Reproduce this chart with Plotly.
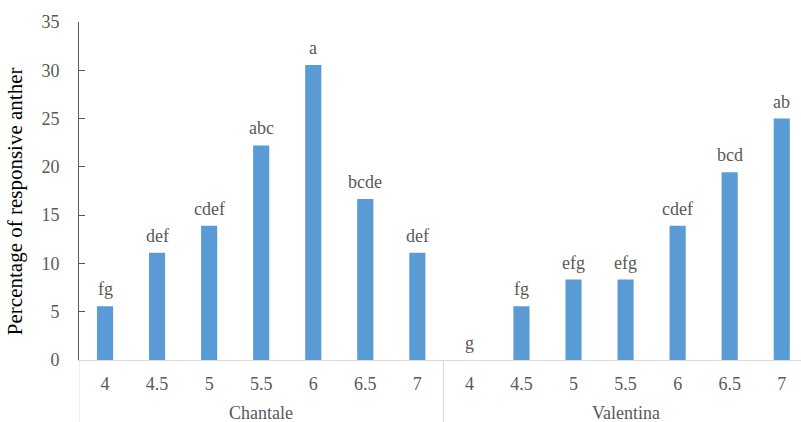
import plotly.graph_objects as go

# Anther response by pH for two cultivars
cultivars = ["Chantale", "Valentina"]
ph_levels = ["4", "4.5", "5", "5.5", "6", "6.5", "7"]
chantale_pct = [5.56, 11.11, 13.89, 22.22, 30.56, 16.67, 11.11]
valentina_pct = [0.0, 5.56, 8.33, 8.33, 13.89, 19.44, 25.0]
chantale_letters = ["fg", "def", "cdef", "abc", "a", "bcde", "def"]
valentina_letters = ["g", "fg", "efg", "efg", "cdef", "bcd", "ab"]
y_ticks = [0, 5, 10, 15, 20, 25, 30, 35]

values = chantale_pct + valentina_pct
letters = chantale_letters + valentina_letters
tick_text = ph_levels + ph_levels
xs = list(range(len(values)))

SERIF = "Liberation Serif"
GREY = "#595959"
LIGHT = "#D9D9D9"
BAR = "#5B9BD5"

fig = go.Figure(
    go.Bar(
        x=xs,
        y=values,
        width=0.31,
        marker=dict(color=BAR, line=dict(width=0)),
        hoverinfo="skip",
    )
)

# significance letters above each bar
for x, v, t in zip(xs, values, letters):
    fig.add_annotation(
        x=x, y=v, text=t, showarrow=False, xref="x", yref="y",
        yanchor="bottom", yshift=5,
        font=dict(family=SERIF, size=18, color=GREY),
    )

n = len(ph_levels)
plot_h = 422 - 22 - 62

# cultivar labels and group dividers below the axis
for i, name in enumerate(cultivars):
    center = i * n + (n - 1) / 2
    fig.add_annotation(
        x=center, y=-53 / plot_h, xref="x", yref="paper", text=name,
        showarrow=False, yanchor="middle",
        font=dict(family=SERIF, size=18, color=GREY),
    )
for k in range(len(cultivars) + 1):
    fig.add_shape(
        type="line", xref="x", yref="paper",
        x0=k * n - 0.5, x1=k * n - 0.5, y0=0, y1=-62 / plot_h,
        line=dict(color=LIGHT, width=1),
    )

# y-axis title
fig.add_annotation(
    x=0, y=0.47, xref="paper", yref="paper", xshift=-64,
    text="Percentage of responsive anther", textangle=-90,
    showarrow=False, xanchor="center", yanchor="middle",
    font=dict(family=SERIF, size=21, color="black"),
)

fig.update_layout(
    width=801, height=422,
    margin=dict(l=79, r=0, t=22, b=62),
    plot_bgcolor="white", paper_bgcolor="white",
    showlegend=False,
    xaxis=dict(
        range=[-0.5, 13.37],
        tickmode="array", tickvals=xs, ticktext=tick_text,
        ticks="", showgrid=False, zeroline=False,
        showline=True, linecolor=LIGHT, linewidth=1,
        tickfont=dict(family=SERIF, size=18, color=GREY),
        ticklabelstandoff=7,
    ),
    yaxis=dict(
        range=[0, 35], tickmode="array", tickvals=y_ticks,
        showgrid=False, zeroline=False,
        showline=True, linecolor=GREY, linewidth=1,
        ticks="inside", ticklen=6, tickcolor=GREY,
        tickfont=dict(family=SERIF, size=18, color=GREY),
        ticklabelstandoff=15,
    ),
)

fig.write_html("out.html")
